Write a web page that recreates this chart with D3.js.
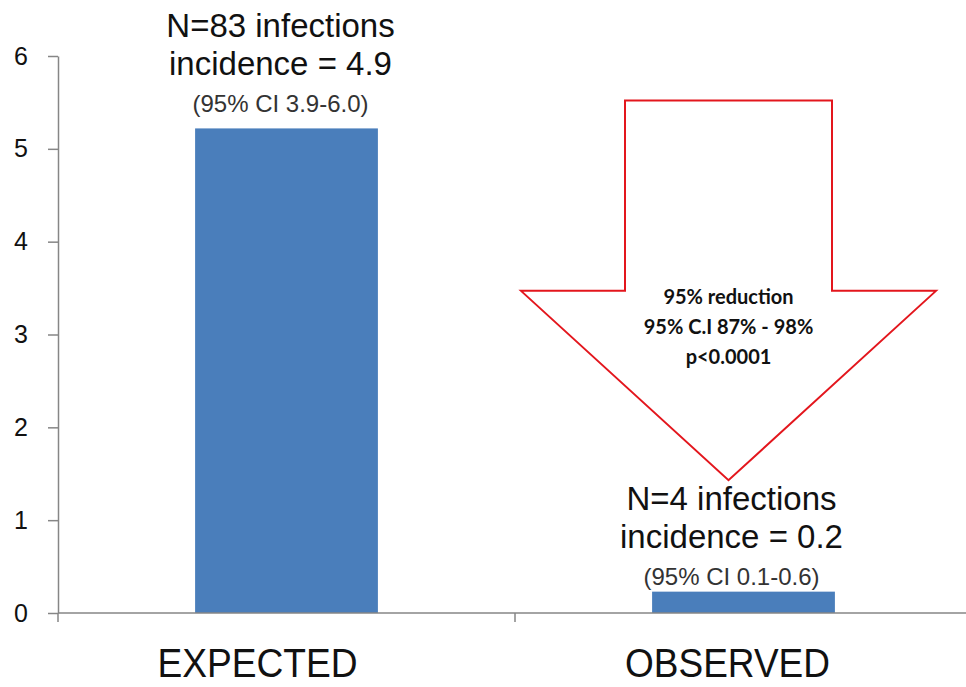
<!DOCTYPE html>
<html>
<head>
<meta charset="utf-8">
<script src="https://cdn.jsdelivr.net/npm/d3@7"></script>
<style>
  body { margin: 0; background: #fff; }
  svg { display: block; font-family: "Liberation Sans", Arial, sans-serif; }
</style>
</head>
<body>
<svg id="chart"></svg>
<script>
// data
const categories = ["EXPECTED", "OBSERVED"];
const incidence = [5.22, 0.23];
const topLines = [
  ["N=83 infections", "incidence = 4.9", "(95% CI 3.9-6.0)"],
  ["N=4 infections", "incidence = 0.2", "(95% CI 0.1-0.6)"]
];
const yTicks = [0, 1, 2, 3, 4, 5, 6];
const arrowLines = ["95% reduction", "95% C.I 87% - 98%", "p<0.0001"];
// arrow levels in data units: top of shaft, wings, tip
const arrowLevels = [5.52, 3.47, 1.43];

const svgWidth = 966, svgHeight = 687;
const margin = { top: 56, left: 58, bottom: 74 };
const plotBottom = svgHeight - margin.bottom; // y of 0

const barColor = "#4a7ebb";
const axisColor = "#868686";
const arrowColor = "#e3161d";

const svg = d3.select("#chart")
  .attr("width", svgWidth)
  .attr("height", svgHeight);

const xScale = d3.scaleBand()
  .domain(categories)
  .range([margin.left, margin.left + 2 * 457])
  .paddingInner(0.6)
  .paddingOuter(0.3);

const yScale = d3.scaleLinear()
  .domain([0, 6])
  .range([plotBottom, margin.top]);

// bars
svg.selectAll("rect.bar")
  .data(incidence)
  .enter()
  .append("rect")
  .attr("class", "bar")
  .attr("fill", barColor)
  .attr("x", (d, i) => xScale(categories[i]))
  .attr("width", xScale.bandwidth())
  .attr("y", d => yScale(d))
  .attr("height", d => yScale(0) - yScale(d));

// y axis
const yAxis = d3.axisLeft(yScale)
  .tickValues(yTicks)
  .tickSize(10)
  .tickPadding(20)
  .tickSizeOuter(0)
  .tickFormat(d3.format("d"));

const yG = svg.append("g")
  .attr("transform", `translate(${margin.left}, 0)`)
  .call(yAxis);
yG.select(".domain").attr("stroke", axisColor).attr("stroke-width", 1.5);
yG.selectAll(".tick line").attr("stroke", axisColor).attr("stroke-width", 1.5);
yG.selectAll(".tick text")
  .attr("font-size", 25)
  .attr("fill", "#111")
  .attr("font-family", "'Liberation Sans', Arial, sans-serif");

// x axis: baseline and category separators
const step = xScale.step();
const bounds = categories.map(c => xScale(c) - step * xScale.paddingInner() / 2);
bounds.push(bounds[bounds.length - 1] + step);

svg.append("line")
  .attr("x1", margin.left).attr("x2", svgWidth)
  .attr("y1", yScale(0)).attr("y2", yScale(0))
  .attr("stroke", axisColor).attr("stroke-width", 1.5);

svg.selectAll("line.sep")
  .data(bounds)
  .enter()
  .append("line")
  .attr("class", "sep")
  .attr("x1", d => d).attr("x2", d => d)
  .attr("y1", yScale(0)).attr("y2", yScale(0) + 9)
  .attr("stroke", axisColor).attr("stroke-width", 1.5);

// category labels (sit a little left of the bar centres in the original)
const catNudge = [-29, -16];
svg.selectAll("text.cat")
  .data(categories)
  .enter()
  .append("text")
  .attr("class", "cat")
  .attr("x", (d, i) => xScale(d) + xScale.bandwidth() / 2 + catNudge[i])
  .attr("y", plotBottom + 64)
  .attr("text-anchor", "middle")
  .attr("font-size", 40)
  .attr("textLength", (d, i) => i === 0 ? 200 : 205)
  .attr("lengthAdjust", "spacingAndGlyphs")
  .attr("fill", "#111")
  .text(d => d);

// labels above bars
const labelNudge = [-6, -12];
const labelLift = [16, 7];
const lineSizes = [33, 33, 24];
topLines.forEach((lines, i) => {
  const cx = xScale(categories[i]) + xScale.bandwidth() / 2 + labelNudge[i];
  const base = yScale(incidence[i]) - labelLift[i];
  const offsets = [-75, -37, 0];
  svg.append("g")
    .selectAll("text")
    .data(lines)
    .enter()
    .append("text")
    .attr("x", cx)
    .attr("y", (d, j) => base + offsets[j])
    .attr("text-anchor", "middle")
    .attr("font-size", (d, j) => lineSizes[j])
    .attr("fill", (d, j) => j === 2 ? "#333" : "#111")
    .text(d => d);
});

// big red arrow over the OBSERVED bar
const ax = xScale("OBSERVED") + xScale.bandwidth() / 2 - 15;
const shaftHalf = 103.5, wingHalf = 207.5;
const [aTop, aWing, aTip] = arrowLevels.map(v => yScale(v));
const arrowPts = [
  [ax - shaftHalf, aTop], [ax + shaftHalf, aTop], [ax + shaftHalf, aWing],
  [ax + wingHalf, aWing], [ax, aTip], [ax - wingHalf, aWing], [ax - shaftHalf, aWing]
];
svg.append("path")
  .attr("d", d3.line()(arrowPts) + "Z")
  .attr("fill", "none")
  .attr("stroke", arrowColor)
  .attr("stroke-width", 2);

svg.append("g")
  .selectAll("text")
  .data(arrowLines)
  .enter()
  .append("text")
  .attr("x", ax)
  .attr("y", (d, i) => aWing + 13 + i * 30)
  .attr("text-anchor", "middle")
  .attr("font-family", "Lato, 'Open Sans', sans-serif")
  .attr("font-weight", "bold")
  .attr("font-size", 20)
  .attr("fill", "#111")
  .text(d => d);
</script>
</body>
</html>
